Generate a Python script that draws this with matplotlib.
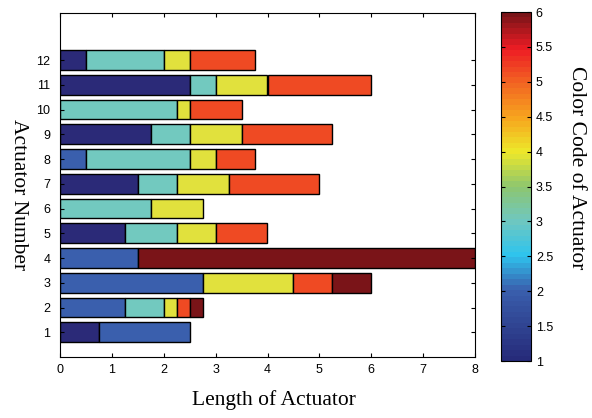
import numpy as np
import matplotlib
matplotlib.use("Agg")
import matplotlib.pyplot as plt
from matplotlib.colors import LinearSegmentedColormap, Normalize
from matplotlib.cm import ScalarMappable

# actuator numbers (rows), each row: segment lengths and their colour codes
actuators = list(range(1, 13))
seg_lengths = [
    [0.75, 1.75],                     # 1
    [1.25, 0.75, 0.25, 0.25, 0.25],   # 2
    [2.75, 1.75, 0.75, 0.75],         # 3
    [1.5, 6.5],                       # 4
    [1.25, 1.0, 0.75, 1.0],           # 5
    [1.75, 1.0],                      # 6
    [1.5, 0.75, 1.0, 1.75],           # 7
    [0.5, 2.0, 0.5, 0.75],            # 8
    [1.75, 0.75, 1.0, 1.75],          # 9
    [2.25, 0.25, 1.0],                # 10
    [2.5, 0.5, 1.0, 2.0],             # 11
    [0.5, 1.5, 0.5, 1.25],            # 12
]
seg_codes = [
    [1, 2],
    [2, 3, 4, 5, 6],
    [2, 4, 5, 6],
    [2, 6],
    [1, 3, 4, 5],
    [3, 4],
    [1, 3, 4, 5],
    [2, 3, 4, 5],
    [1, 3, 4, 5],
    [3, 4, 5],
    [1, 3, 4, 5],
    [1, 3, 4, 5],
]

# colour per code as drawn in the bars
code_colors = {1: "#2b2a78", 2: "#3a5fad", 3: "#72c9bf",
               4: "#e1e13d", 5: "#ef4a23", 6: "#7a1418"}

cmap = LinearSegmentedColormap.from_list("actuator", [
    (0.0, "#262b7a"), (0.2, "#3a5fad"), (0.3, "#2ec4ee"), (0.4, "#6fc7c0"),
    (0.5, "#8dc66e"), (0.6, "#ede82a"), (0.7, "#f7a51e"), (0.8, "#f26522"),
    (0.9, "#ed1c24"), (1.0, "#7a1418")], N=64)

fig = plt.figure(figsize=(5.92, 4.18), dpi=100)
ax = fig.add_axes([60 / 592, 1 - 357 / 418, 415 / 592, 344 / 418])

for y, lengths, codes in zip(actuators, seg_lengths, seg_codes):
    left = 0
    for w, c in zip(lengths, codes):
        ax.barh(y, w, left=left, height=0.8, color=code_colors[c],
                edgecolor="black", linewidth=1)
        left += w

ax.set_xlim(0, 8)
ax.set_ylim(0, 13.9)
ax.set_xticks(range(9))
ax.set_yticks(actuators)
ax.tick_params(direction="in", top=True, right=True, labelsize=9, length=3)
ax.tick_params(axis="y", pad=7)
ax.tick_params(axis="x", pad=5)
for lab in ax.get_xticklabels() + ax.get_yticklabels():
    lab.set_family("Liberation Sans")

# axis titles (serif, the vertical ones read top to bottom)
fig.text(274 / 592, 1 - 400 / 418, "Length of Actuator", family="Liberation Serif",
         fontsize=15.5, ha="center", va="center")
fig.text(18 / 592, 1 - 195 / 418, "Actuator Number", family="Liberation Serif",
         fontsize=15.5, rotation=270, ha="center", va="center")

cax = fig.add_axes([501 / 592, 1 - 361 / 418, 30 / 592, 349 / 418])
sm = ScalarMappable(norm=Normalize(1, 6), cmap=cmap)
cb = fig.colorbar(sm, cax=cax)
cb.set_ticks(np.arange(1, 6.01, 0.5))
cb.set_ticklabels(["1", "1.5", "2", "2.5", "3", "3.5", "4", "4.5", "5", "5.5", "6"])
cax.tick_params(direction="in", left=True, right=True, labelsize=9, length=3)
for lab in cax.get_yticklabels():
    lab.set_family("Liberation Sans")
fig.text(577 / 592, 1 - 168 / 418, "Color Code of Actuator", family="Liberation Serif",
         fontsize=15.5, rotation=270, ha="center", va="center")

fig.savefig("out.png", dpi=100)
